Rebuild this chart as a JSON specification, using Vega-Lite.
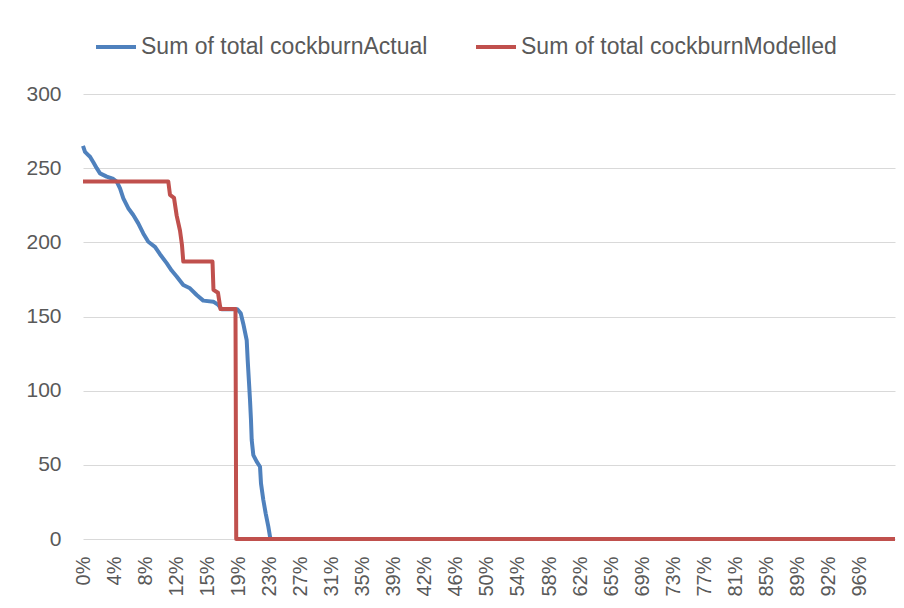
{
  "$schema": "https://vega.github.io/schema/vega-lite/v6.json",
  "autosize": {"type": "none"},
  "padding": {"left": 83, "top": 94, "right": 9, "bottom": 69},
  "width": 812,
  "height": 445,
  "background": "white",
  "config": {
    "view": {"stroke": null},
    "font": "Liberation Sans"
  },
  "data": {
    "values": [
      {"series": "Sum of total cockburnActual", "x": 0.0, "y": 265},
      {"series": "Sum of total cockburnActual", "x": 0.0025, "y": 261},
      {"series": "Sum of total cockburnActual", "x": 0.0062, "y": 259},
      {"series": "Sum of total cockburnActual", "x": 0.0087, "y": 257.7},
      {"series": "Sum of total cockburnActual", "x": 0.0128, "y": 254},
      {"series": "Sum of total cockburnActual", "x": 0.017, "y": 250},
      {"series": "Sum of total cockburnActual", "x": 0.0211, "y": 246.5},
      {"series": "Sum of total cockburnActual", "x": 0.0294, "y": 244.3},
      {"series": "Sum of total cockburnActual", "x": 0.0376, "y": 242.7},
      {"series": "Sum of total cockburnActual", "x": 0.0418, "y": 241},
      {"series": "Sum of total cockburnActual", "x": 0.0459, "y": 236.4},
      {"series": "Sum of total cockburnActual", "x": 0.05, "y": 229.7},
      {"series": "Sum of total cockburnActual", "x": 0.0561, "y": 223},
      {"series": "Sum of total cockburnActual", "x": 0.0623, "y": 218.4},
      {"series": "Sum of total cockburnActual", "x": 0.0685, "y": 212.8},
      {"series": "Sum of total cockburnActual", "x": 0.0747, "y": 206},
      {"series": "Sum of total cockburnActual", "x": 0.0809, "y": 200.4},
      {"series": "Sum of total cockburnActual", "x": 0.0892, "y": 197},
      {"series": "Sum of total cockburnActual", "x": 0.0954, "y": 192},
      {"series": "Sum of total cockburnActual", "x": 0.1037, "y": 186},
      {"series": "Sum of total cockburnActual", "x": 0.1099, "y": 181},
      {"series": "Sum of total cockburnActual", "x": 0.1161, "y": 177},
      {"series": "Sum of total cockburnActual", "x": 0.1243, "y": 171.2},
      {"series": "Sum of total cockburnActual", "x": 0.1326, "y": 169},
      {"series": "Sum of total cockburnActual", "x": 0.1409, "y": 164.5},
      {"series": "Sum of total cockburnActual", "x": 0.1491, "y": 160.7},
      {"series": "Sum of total cockburnActual", "x": 0.1615, "y": 160},
      {"series": "Sum of total cockburnActual", "x": 0.1677, "y": 157.8},
      {"series": "Sum of total cockburnActual", "x": 0.1719, "y": 154.9},
      {"series": "Sum of total cockburnActual", "x": 0.1913, "y": 154.9},
      {"series": "Sum of total cockburnActual", "x": 0.1955, "y": 152.2},
      {"series": "Sum of total cockburnActual", "x": 0.1987, "y": 145},
      {"series": "Sum of total cockburnActual", "x": 0.2029, "y": 134},
      {"series": "Sum of total cockburnActual", "x": 0.2041, "y": 120.7},
      {"series": "Sum of total cockburnActual", "x": 0.2058, "y": 105},
      {"series": "Sum of total cockburnActual", "x": 0.207, "y": 93.7},
      {"series": "Sum of total cockburnActual", "x": 0.2082, "y": 80.2},
      {"series": "Sum of total cockburnActual", "x": 0.2091, "y": 66.7},
      {"series": "Sum of total cockburnActual", "x": 0.2111, "y": 56.6},
      {"series": "Sum of total cockburnActual", "x": 0.2153, "y": 52.1},
      {"series": "Sum of total cockburnActual", "x": 0.2194, "y": 48.7},
      {"series": "Sum of total cockburnActual", "x": 0.2206, "y": 37.5},
      {"series": "Sum of total cockburnActual", "x": 0.2235, "y": 26.3},
      {"series": "Sum of total cockburnActual", "x": 0.2264, "y": 17.3},
      {"series": "Sum of total cockburnActual", "x": 0.2297, "y": 8.3},
      {"series": "Sum of total cockburnActual", "x": 0.2318, "y": 1.5},
      {"series": "Sum of total cockburnActual", "x": 0.2324, "y": 0},
      {"series": "Sum of total cockburnActual", "x": 1.0064, "y": 0},
      {"series": "Sum of total cockburnModelled", "x": 0.0, "y": 241},
      {"series": "Sum of total cockburnModelled", "x": 0.1057, "y": 241},
      {"series": "Sum of total cockburnModelled", "x": 0.1078, "y": 232},
      {"series": "Sum of total cockburnModelled", "x": 0.1128, "y": 230},
      {"series": "Sum of total cockburnModelled", "x": 0.1161, "y": 218},
      {"series": "Sum of total cockburnModelled", "x": 0.1202, "y": 208},
      {"series": "Sum of total cockburnModelled", "x": 0.1227, "y": 198},
      {"series": "Sum of total cockburnModelled", "x": 0.1243, "y": 187},
      {"series": "Sum of total cockburnModelled", "x": 0.1605, "y": 187},
      {"series": "Sum of total cockburnModelled", "x": 0.1617, "y": 168},
      {"series": "Sum of total cockburnModelled", "x": 0.1673, "y": 166},
      {"series": "Sum of total cockburnModelled", "x": 0.1704, "y": 155},
      {"series": "Sum of total cockburnModelled", "x": 0.189, "y": 155},
      {"series": "Sum of total cockburnModelled", "x": 0.1899, "y": 0},
      {"series": "Sum of total cockburnModelled", "x": 1.0064, "y": 0}
    ]
  },
  "mark": {"type": "line", "strokeWidth": 4, "strokeJoin": "round", "strokeCap": "butt"},
  "encoding": {
    "x": {
      "field": "x",
      "type": "quantitative",
      "scale": {"domain": [0, 1.0064], "nice": false, "zero": false},
      "axis": {
        "title": null,
        "values": [0, 0.03851, 0.07702, 0.11553, 0.15404, 0.19255, 0.23106, 0.26957, 0.30808, 0.34659, 0.3851, 0.42361, 0.46212, 0.50063, 0.53914, 0.57765, 0.61616, 0.65467, 0.69318, 0.73169, 0.7702, 0.80871, 0.84722, 0.88573, 0.92424, 0.96275],
        "format": ".0%",
        "labelAngle": -90,
        "labelFlush": false,
        "labelOverlap": false,
        "labelBound": false,
        "grid": false,
        "ticks": false,
        "domain": false,
        "labelPadding": 17,
        "labelFontSize": 20,
        "labelColor": "#595959"
      }
    },
    "y": {
      "field": "y",
      "type": "quantitative",
      "scale": {"domain": [0, 300], "nice": false},
      "axis": {
        "title": null,
        "values": [0, 50, 100, 150, 200, 250, 300],
        "grid": true,
        "gridColor": "#d9d9d9",
        "gridWidth": 1,
        "domain": false,
        "ticks": false,
        "labelPadding": 22,
        "labelFontSize": 21,
        "labelColor": "#595959"
      }
    },
    "color": {
      "field": "series",
      "type": "nominal",
      "scale": {
        "domain": ["Sum of total cockburnActual", "Sum of total cockburnModelled"],
        "range": ["#4F81BD", "#C0504D"]
      },
      "legend": {
        "title": null,
        "orient": "none",
        "direction": "horizontal",
        "legendX": 11,
        "legendY": -69,
        "symbolType": "stroke",
        "symbolSize": 1600,
        "symbolStrokeWidth": 4,
        "labelFontSize": 23,
        "labelColor": "#595959",
        "labelOffset": 3,
        "columnPadding": 40,
        "labelLimit": 400
      }
    }
  }
}
